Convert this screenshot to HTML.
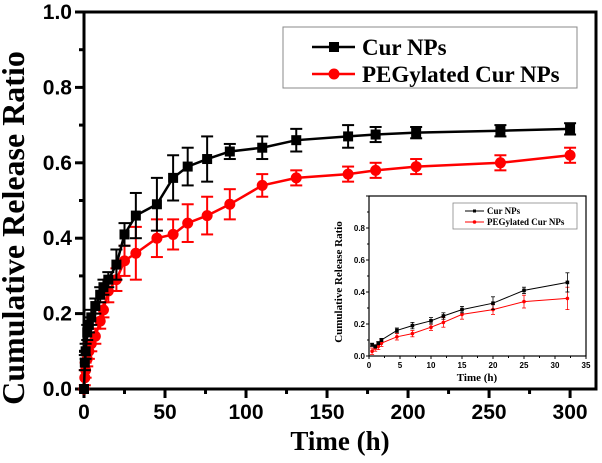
<!DOCTYPE html>
<html><head><meta charset="utf-8"><style>
html,body{margin:0;padding:0;background:#fff;}
svg{display:block;}
</style></head><body>
<svg id="c" width="602" height="463" xmlns="http://www.w3.org/2000/svg"></svg>
<script>
const mainTimes=[0,0.5,1,2,3,4.5,7,10,12,15,20,25,32,45,55,64,76,90,110,131,163,180,205,257,300];
const curNPs=[0,0.07,0.1,0.15,0.17,0.19,0.22,0.25,0.27,0.29,0.33,0.41,0.46,0.49,0.56,0.59,0.61,0.63,0.64,0.66,0.67,0.675,0.68,0.685,0.69];
const curErr=[0,0.02,0.02,0.02,0.02,0.02,0.02,0.02,0.02,0.02,0.04,0.03,0.06,0.07,0.06,0.05,0.06,0.02,0.03,0.03,0.03,0.02,0.015,0.015,0.015];
const pegNPs=[0,0.03,0.05,0.08,0.1,0.12,0.14,0.18,0.21,0.26,0.29,0.34,0.36,0.40,0.41,0.44,0.46,0.49,0.54,0.56,0.57,0.58,0.59,0.60,0.62];
const pegErr=[0,0.02,0.02,0.02,0.02,0.02,0.02,0.02,0.02,0.03,0.03,0.04,0.07,0.05,0.04,0.05,0.05,0.04,0.03,0.02,0.02,0.02,0.02,0.02,0.02];
const insetTimes=[0.5,1,1.5,2,4.5,7,10,12,15,20,25,32];
const insetCur=[0.07,0.06,0.08,0.10,0.16,0.19,0.22,0.25,0.29,0.33,0.41,0.46];
const insetCurErr=[0.01,0.01,0.01,0.01,0.015,0.02,0.02,0.02,0.02,0.04,0.02,0.06];
const insetPeg=[0.03,0.05,0.06,0.08,0.12,0.14,0.18,0.21,0.26,0.29,0.34,0.36];
const insetPegErr=[0.02,0.02,0.02,0.02,0.02,0.02,0.02,0.03,0.03,0.03,0.04,0.07];
const xTicks=[0,50,100,150,200,250,300];
const yTicks=[0,0.2,0.4,0.6,0.8,1.0];
const ixTicks=[0,5,10,15,20,25,30,35];
const iyTicks=[0,0.2,0.4,0.6,0.8];

const svg=document.getElementById('c');
const NS='http://www.w3.org/2000/svg';
function el(tag,attrs,parent){const e=document.createElementNS(NS,tag);for(const k in attrs)e.setAttribute(k,attrs[k]);(parent||svg).appendChild(e);return e;}
function txt(s,attrs,parent){const e=el('text',attrs,parent);e.textContent=s;return e;}

const M={x0:84,x1:596,y0:389,y1:12,tmax:316};
const mx=t=>M.x0+t*(M.x1-M.x0)/M.tmax;
const my=v=>M.y0-v*(M.y0-M.y1);
const frame=el('rect',{x:M.x0,y:M.y1,width:M.x1-M.x0,height:M.y0-M.y1,fill:'none',stroke:'#000','stroke-width':3});


for(let t=0;t<=300;t+=25){const major=t%50===0;
 const tk=el('line',{x1:mx(t),x2:mx(t),y1:M.y0,y2:M.y0+(major?9:5),stroke:'#000','stroke-width':3});
 
 }
xTicks.forEach(t=>{const l=txt(String(t),{x:mx(t),y:M.y0+30,'text-anchor':'middle','font-family':'Liberation Sans, sans-serif','font-weight':'bold','font-size':21});
 
 });
for(let i=0;i<=10;i++){const v=i/10;const major=i%2===0;
 const tk=el('line',{x1:M.x0,x2:M.x0-(major?9:5),y1:my(v),y2:my(v),stroke:'#000','stroke-width':3});
 
 }
yTicks.forEach(v=>{const l=txt(v.toFixed(1),{x:M.x0-12,y:my(v)+7,'text-anchor':'end','font-family':'Liberation Sans, sans-serif','font-weight':'bold','font-size':21});
 
 });
const xt=txt('Time (h)',{x:340,y:450,'text-anchor':'middle','font-family':'Liberation Serif, serif','font-weight':'bold','font-size':27});


const yt=txt('Cumulative Release Ratio',{x:0,y:0,transform:'translate(24,228) rotate(-90)','text-anchor':'middle','font-family':'Liberation Serif, serif','font-weight':'bold','font-size':32});



function series(times,vals,errs,fx,fy,color,marker,size,sw,cap,name){
 const g=el('g',{});
 
 
 times.forEach((t,i)=>{if(errs[i]>0){const x=fx(t);
  el('line',{x1:x,x2:x,y1:fy(vals[i]-errs[i]),y2:fy(vals[i]+errs[i]),stroke:color,'stroke-width':sw*0.8},g);
  el('line',{x1:x-cap,x2:x+cap,y1:fy(vals[i]-errs[i]),y2:fy(vals[i]-errs[i]),stroke:color,'stroke-width':sw*0.8},g);
  el('line',{x1:x-cap,x2:x+cap,y1:fy(vals[i]+errs[i]),y2:fy(vals[i]+errs[i]),stroke:color,'stroke-width':sw*0.8},g);}});
 el('polyline',{points:times.map((t,i)=>fx(t)+','+fy(vals[i])).join(' '),fill:'none',stroke:color,'stroke-width':sw},g);
 times.forEach((t,i)=>{const x=fx(t),y=fy(vals[i]);let m;
  if(marker==='sq')m=el('rect',{x:x-size,y:y-size,width:2*size,height:2*size,fill:color},g);
  else m=el('circle',{cx:x,cy:y,r:size,fill:color},g);
  
  });
}
series(mainTimes,pegNPs,pegErr,mx,my,'#ff0000','ci',5.5,2.5,6,'series-pegylated-cur-nps');
series(mainTimes,curNPs,curErr,mx,my,'#000','sq',5,2.5,6,'series-cur-nps');

const lg=el('g',{});


el('rect',{x:283,y:27,width:294,height:61,fill:'#fff',stroke:'#888','stroke-width':1},lg);
el('line',{x1:312,x2:355,y1:47,y2:47,stroke:'#000','stroke-width':2.5},lg);
el('rect',{x:329,y:42,width:10,height:10,fill:'#000'},lg);
el('line',{x1:312,x2:355,y1:74,y2:74,stroke:'#f00','stroke-width':2.5},lg);
el('circle',{cx:334,cy:74,r:5.5,fill:'#f00'},lg);
const l1=txt('Cur NPs',{x:362,y:55,'font-family':'Liberation Serif, serif','font-weight':'bold','font-size':23},lg);


const l2=txt('PEGylated Cur NPs',{x:362,y:82,'font-family':'Liberation Serif, serif','font-weight':'bold','font-size':23},lg);



const I={x0:369,x1:586,y0:356,y1:196,tmax:35};
const ix=t=>I.x0+t*(I.x1-I.x0)/I.tmax;
const iy=v=>I.y0-v*(I.y0-I.y1);
const ig=el('g',{});


el('rect',{x:I.x0,y:I.y1,width:I.x1-I.x0,height:I.y0-I.y1,fill:'#fff',stroke:'#000','stroke-width':1.2},ig);
for(let t=0;t<=35;t+=2.5){const major=t%5===0;el('line',{x1:ix(t),x2:ix(t),y1:I.y0,y2:I.y0+(major?3:2),stroke:'#000','stroke-width':1},ig);}
ixTicks.forEach(t=>{const l=txt(String(t),{x:ix(t),y:I.y0+12,'text-anchor':'middle','font-family':'Liberation Sans, sans-serif','font-weight':'bold','font-size':8},ig);
 
 });
for(let i=0;i<=10;i++){el('line',{x1:I.x0,x2:I.x0-(i%2===0?3:2),y1:iy(i/10),y2:iy(i/10),stroke:'#000','stroke-width':1},ig);}
iyTicks.forEach(v=>{const l=txt(v.toFixed(1),{x:I.x0-4,y:iy(v)+3,'text-anchor':'end','font-family':'Liberation Sans, sans-serif','font-weight':'bold','font-size':8},ig);
 
 });
const ixt=txt('Time (h)',{x:477,y:381,'text-anchor':'middle','font-family':'Liberation Serif, serif','font-weight':'bold','font-size':11},ig);


const iyt=txt('Cumulative Release Ratio',{x:0,y:0,transform:'translate(342,282) rotate(-90)','text-anchor':'middle','font-family':'Liberation Serif, serif','font-weight':'bold','font-size':11},ig);


series(insetTimes,insetPeg,insetPegErr,ix,iy,'#ff0000','ci',1.8,1,2,'inset-series-pegylated');
series(insetTimes,insetCur,insetCurErr,ix,iy,'#000','sq',1.8,1,2,'inset-series-cur-nps');
const il=el('g',{});


el('rect',{x:453,y:203,width:124,height:26,fill:'#fff',stroke:'#888','stroke-width':0.8},il);
el('line',{x1:465,x2:484,y1:211,y2:211,stroke:'#000','stroke-width':1},il);
el('rect',{x:473,y:209.5,width:3,height:3,fill:'#000'},il);
el('line',{x1:465,x2:484,y1:222,y2:222,stroke:'#f00','stroke-width':1},il);
el('circle',{cx:474.5,cy:222,r:1.8,fill:'#f00'},il);
txt('Cur NPs',{x:487,y:214,'font-family':'Liberation Serif, serif','font-weight':'bold','font-size':9},il);
txt('PEGylated Cur NPs',{x:487,y:225,'font-family':'Liberation Serif, serif','font-weight':'bold','font-size':9},il);
</script>
</body></html>
